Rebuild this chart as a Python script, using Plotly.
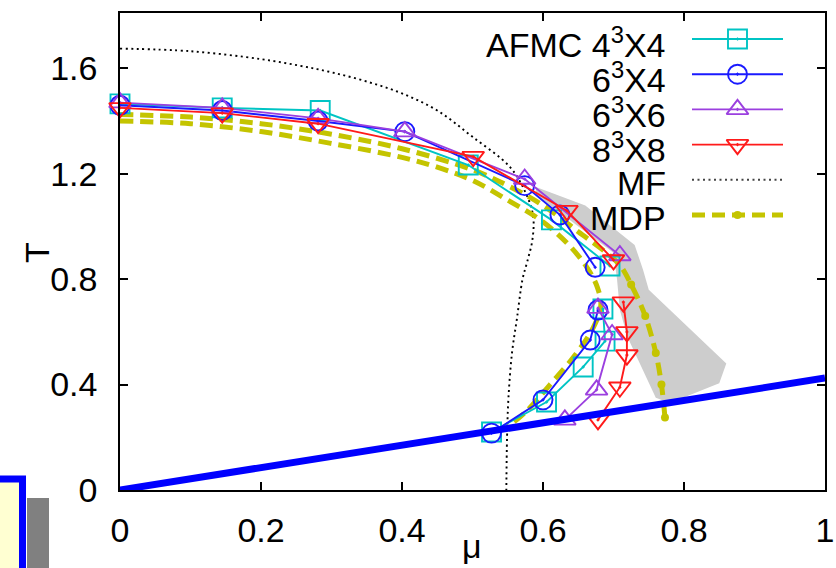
import plotly.graph_objects as go

# ---------------- data ----------------
AFMC_MU = [0.0, 0.145, 0.284, 0.494, 0.612, 0.695, None, 0.685, 0.688, 0.657, 0.605, 0.527]
AFMC_T = [1.465, 1.45, 1.44, 1.233, 1.025, 0.85, None, 0.687, 0.565, 0.467, 0.334, 0.22]

B6X4_MU = [0.0, 0.145, 0.281, 0.404, 0.574, 0.624, 0.674, None, 0.678, 0.667, 0.600, 0.527]
B6X4_T = [1.46, 1.44, 1.40, 1.36, 1.155, 1.044, 0.845, None, 0.683, 0.569, 0.342, 0.216]

P6X6_MU = [0.0, 0.145, 0.281, 0.404, 0.574, 0.709, None, 0.678, 0.698, 0.676, 0.631]
P6X6_T = [1.47, 1.45, 1.41, 1.36, 1.18, 0.89, None, 0.69, 0.59, 0.38, 0.266]

R8X8_MU = [0.0, 0.145, 0.281, 0.501, 0.634, 0.700, None, 0.714, 0.719, 0.719, 0.709, 0.678]
R8X8_T = [1.45, 1.43, 1.39, 1.265, 1.06, 0.873, None, 0.713, 0.60, 0.512, 0.39, 0.266]

MF_MU = [0.0, 0.1, 0.2, 0.255, 0.3, 0.35, 0.4, 0.45, 0.5, 0.553, 0.575, 0.586, 0.585,
         0.578, 0.571, 0.563, 0.556, 0.551, 0.549, 0.548]
MF_T = [1.675, 1.665, 1.635, 1.61, 1.585, 1.55, 1.505, 1.44, 1.34, 1.226, 1.13, 1.04, 0.95,
        0.87, 0.80, 0.65, 0.52, 0.35, 0.20, 0.0]

MDP_MU = [0.0, 0.1, 0.2, 0.3, 0.4, 0.5, 0.55, 0.6, 0.65, 0.69, 0.71, 0.725, 0.745, 0.76, 0.768, 0.773]
MDP_T = [1.425, 1.415, 1.39, 1.35, 1.295, 1.215, 1.155, 1.08, 0.98, 0.9, 0.85, 0.78, 0.66, 0.52, 0.40, 0.275]
MDP_DOT_MU = [0.725, 0.745, 0.76, 0.768, 0.773]
MDP_DOT_T = [0.78, 0.66, 0.52, 0.40, 0.275]

MDP2_MU = [0.0, 0.1, 0.2, 0.3, 0.4, 0.45, 0.5, 0.55, 0.596, 0.634, 0.662, 0.677, 0.682,
           0.672, 0.645, 0.61, 0.575, 0.545]
MDP2_T = [1.40, 1.39, 1.36, 1.315, 1.262, 1.225, 1.175, 1.10, 1.025, 0.937, 0.846, 0.77, 0.70,
          0.62, 0.51, 0.40, 0.295, 0.23]

BAND_MU = [0.59, 0.66, 0.73, 0.742, 0.75, 0.86, 0.85, 0.78, 0.76, 0.742, 0.72, 0.709, 0.705,
           0.70, 0.64, 0.59]
BAND_T = [1.15, 1.08, 0.93, 0.835, 0.76, 0.48, 0.405, 0.33, 0.35, 0.455, 0.58, 0.683, 0.80,
          0.90, 1.02, 1.12]

LINE_MU = [0.0, 1.0]
LINE_T = [0.0, 0.425]

X_TICKS = [0, 0.2, 0.4, 0.6, 0.8, 1]
X_TICKTEXT = ["0", "0.2", "0.4", "0.6", "0.8", "1"]
Y_TICKS = [0, 0.4, 0.8, 1.2, 1.6]
Y_TICKTEXT = ["0", "0.4", "0.8", "1.2", "1.6"]

LEGEND_LABELS = ["AFMC 4<sup>3</sup>X4", "6<sup>3</sup>X4", "6<sup>3</sup>X6", "8<sup>3</sup>X8", "MF", "MDP"]

# ---------------- style ----------------
W, H = 836, 568
ML, MR, MT, MB = 120, 11, 13, 78
FONT = "Liberation Sans, Arial, sans-serif"
FS = 34
CYAN = "#00c4c4"
BLUE = "#1a1aff"
PURPLE = "#9b3fdf"
RED = "#ff1a1a"
YEL = "#c4c400"
GRAY = "#cdcdcd"
MS = 19
LW = 1.9
MLW = 1.9

PX0, PX1 = ML, W - MR
PY0, PY1 = H - MB, MT


def px2paper_x(px):
    return (px - PX0) / (PX1 - PX0)


def px2paper_y(py):
    return (PY0 - py) / (PY0 - PY1)


fig = go.Figure()

# gray band
fig.add_trace(go.Scatter(x=BAND_MU, y=BAND_T, mode="lines", fill="toself", fillcolor=GRAY,
                         line=dict(width=0, color=GRAY), hoverinfo="skip", showlegend=False))
# MF
fig.add_trace(go.Scatter(x=MF_MU, y=MF_T, mode="lines", line=dict(color="black", width=1.9, dash="2px,3.5px"),
                         line_shape="spline", showlegend=False, name="MF"))
# MDP
fig.add_trace(go.Scatter(x=MDP2_MU, y=MDP2_T, mode="lines", line=dict(color=YEL, width=5, dash="13px,7px"),
                         line_shape="spline", showlegend=False))
fig.add_trace(go.Scatter(x=MDP_MU, y=MDP_T, mode="lines", line=dict(color=YEL, width=5, dash="13px,7px"),
                         line_shape="spline", showlegend=False, name="MDP"))
fig.add_trace(go.Scatter(x=MDP_DOT_MU, y=MDP_DOT_T, mode="markers", marker=dict(color=YEL, size=8),
                         showlegend=False))

series = [
    (AFMC_MU, AFMC_T, CYAN, "square-open-dot"),
    (B6X4_MU, B6X4_T, BLUE, "circle-open-dot"),
    (P6X6_MU, P6X6_T, PURPLE, "triangle-up-open-dot"),
    (R8X8_MU, R8X8_T, RED, "triangle-down-open-dot"),
]
for (mx, my, col, sym), lab in zip(series, LEGEND_LABELS[:4]):
    fig.add_trace(go.Scatter(x=mx, y=my, mode="lines+markers", name=lab, cliponaxis=False,
                             line=dict(color=col, width=LW),
                             marker=dict(symbol=sym, size=MS, color=col, line=dict(width=MLW, color=col)),
                             showlegend=False))

# thick blue line
fig.add_trace(go.Scatter(x=LINE_MU, y=LINE_T, mode="lines", line=dict(color="#0000ff", width=7),
                         showlegend=False))

# ---------------- custom legend (gnuplot style: text then sample) ----------------
LEG_TEXT_RIGHT = 668
LEG_X0, LEG_X1 = 692, 783
LEG_ROW0, LEG_DY = 39, 35.2
leg_styles = [
    dict(line=dict(color=CYAN, width=LW), marker=dict(symbol="square-open-dot", size=MS, color=CYAN, line=dict(width=MLW, color=CYAN))),
    dict(line=dict(color=BLUE, width=LW), marker=dict(symbol="circle-open-dot", size=MS, color=BLUE, line=dict(width=MLW, color=BLUE))),
    dict(line=dict(color=PURPLE, width=LW), marker=dict(symbol="triangle-up-open-dot", size=MS, color=PURPLE, line=dict(width=MLW, color=PURPLE))),
    dict(line=dict(color=RED, width=LW), marker=dict(symbol="triangle-down-open-dot", size=MS, color=RED, line=dict(width=MLW, color=RED))),
    dict(line=dict(color="#444444", width=1.9, dash="2px,3.5px"), marker=dict(size=1, opacity=0)),
    dict(line=dict(color=YEL, width=5, dash="13px,7px"), marker=dict(size=8, color=YEL, symbol="circle")),
]
annotations = []
for i, (lab, st) in enumerate(zip(LEGEND_LABELS, leg_styles)):
    yrow = LEG_ROW0 + i * LEG_DY
    xm = (LEG_X0 + LEG_X1) / 2
    fig.add_trace(go.Scatter(x=[LEG_X0, xm, LEG_X1], y=[yrow, yrow, yrow], mode="lines",
                             line=st["line"], xaxis="x2", yaxis="y2", showlegend=False, hoverinfo="skip"))
    fig.add_trace(go.Scatter(x=[xm], y=[yrow], mode="markers", marker=st["marker"],
                             xaxis="x2", yaxis="y2", showlegend=False, hoverinfo="skip"))
    annotations.append(dict(x=LEG_TEXT_RIGHT, y=yrow + 3, xref="x2", yref="y2", text=lab,
                            showarrow=False, xanchor="right", yanchor="middle",
                            font=dict(family=FONT, size=FS, color="black")))

# axis titles
annotations.append(dict(x=px2paper_x(472), y=px2paper_y(546), xref="paper", yref="paper", text="μ",
                        showarrow=False, xanchor="center", yanchor="middle",
                        font=dict(family=FONT, size=FS, color="black")))
annotations.append(dict(x=px2paper_x(37), y=px2paper_y(253), xref="paper", yref="paper", text="T",
                        showarrow=False, xanchor="center", yanchor="middle", textangle=-90,
                        font=dict(family=FONT, size=FS, color="black")))

# decorative boxes at lower-left
shapes = [
    dict(type="rect", xref="paper", yref="paper", x0=px2paper_x(27), x1=px2paper_x(49),
         y0=px2paper_y(498), y1=px2paper_y(600), fillcolor="#808080", line=dict(width=0), layer="above"),
    dict(type="rect", xref="paper", yref="paper", x0=px2paper_x(-20), x1=px2paper_x(22.5),
         y0=px2paper_y(479), y1=px2paper_y(600), fillcolor="#ffffd2",
         line=dict(width=7, color="#0000ff"), layer="above"),
]

axis_common = dict(showgrid=False, zeroline=False, showline=True, linecolor="black", linewidth=1.6,
                   mirror="ticks", ticks="inside", ticklen=8, tickwidth=1.6, tickcolor="black",
                   tickfont=dict(family=FONT, size=FS, color="black"))

fig.update_layout(
    width=W, height=H,
    margin=dict(l=ML, r=MR, t=MT, b=MB, autoexpand=False),
    paper_bgcolor="white", plot_bgcolor="white",
    showlegend=False,
    xaxis=dict(range=[0, 1], tickvals=X_TICKS, ticktext=X_TICKTEXT, ticklabelstandoff=9, **axis_common),
    yaxis=dict(range=[0, 1.81], tickvals=Y_TICKS, ticktext=Y_TICKTEXT, ticklabelstandoff=14, **axis_common),
    xaxis2=dict(range=[PX0, PX1], overlaying="x", visible=False, fixedrange=True),
    yaxis2=dict(range=[PY0, PY1], overlaying="y", visible=False, fixedrange=True),
    annotations=annotations,
    shapes=shapes,
)

fig.write_html("out.html")
